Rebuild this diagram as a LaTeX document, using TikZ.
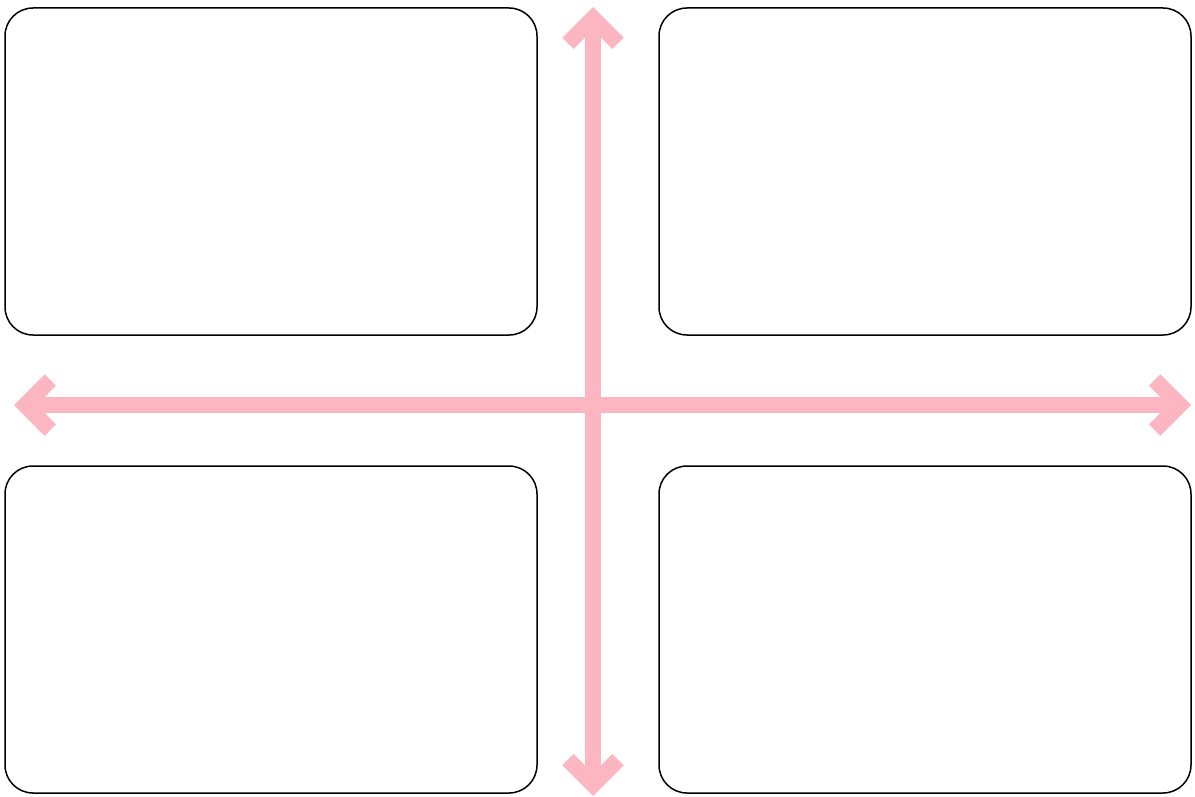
\documentclass[tikz,border=0pt]{standalone}
\usetikzlibrary{arrows.meta}
\definecolor{axispink}{RGB}{252,182,193}
\begin{document}
\begin{tikzpicture}[x=1pt,y=-1pt,
  panel/.style={draw=black,line width=1.5pt,rounded corners=28pt},
  axis/.style={draw=axispink,line width=16pt,
    {Straight Barb[length=25pt,width=50pt]}-{Straight Barb[length=25pt,width=50pt]}}]
\useasboundingbox (0,0) rectangle (1195,797);
\draw[panel] (5,8) rectangle (537,335);
\draw[panel] (659,8) rectangle (1191,335);
\draw[panel] (5,466) rectangle (537,793);
\draw[panel] (659,466) rectangle (1191,793);
\coordinate (top) at (593,7);
\coordinate (bottom) at (593,796);
\coordinate (left) at (14,405);
\coordinate (right) at (1191,405);
\draw[axis] (left) -- (right);
\draw[axis] (top) -- (bottom);
\end{tikzpicture}
\end{document}
